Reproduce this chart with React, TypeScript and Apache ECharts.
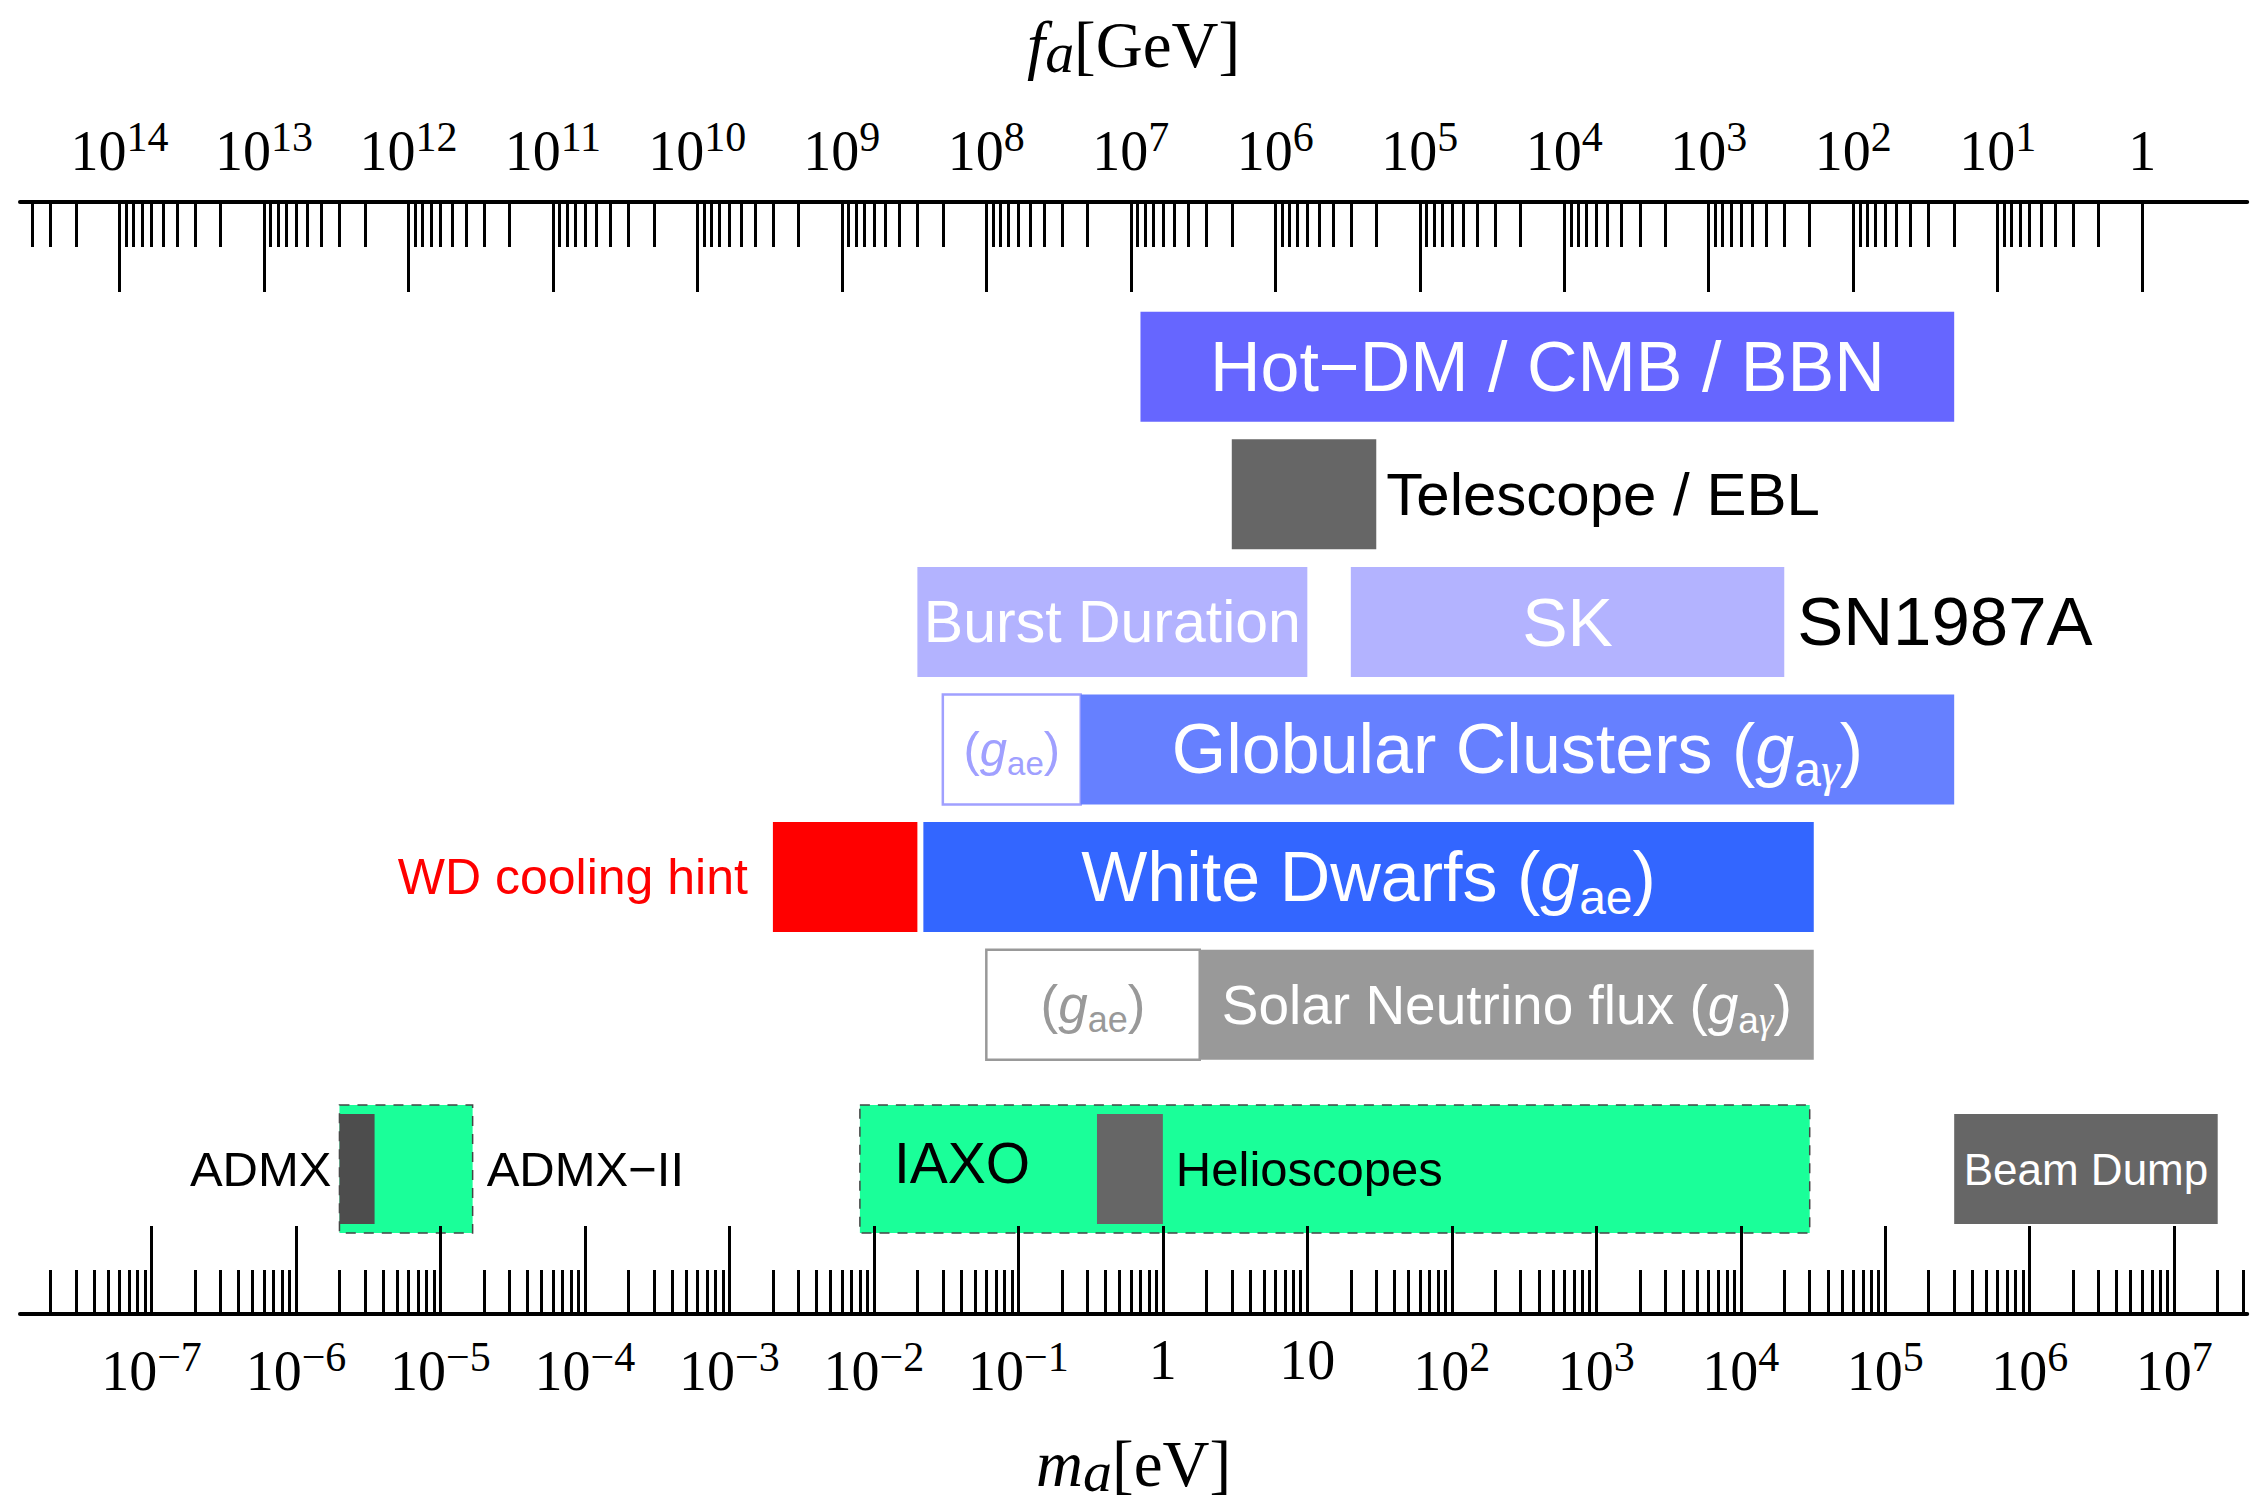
import React, { useEffect, useRef } from "react";
import * as echarts from "echarts";

// ---------------- data ----------------
// lower axis: axion mass m_a [eV]; upper axis: f_a [GeV] = faTimesMass / m_a
const massAxisRangeEv = [1.23e-8, 3.2e7];
const faTimesMass = 6.0e6;
const massTickExponents = [-7, -6, -5, -4, -3, -2, -1, 0, 1, 2, 3, 4, 5, 6, 7];
const faTickExponents = [14, 13, 12, 11, 10, 9, 8, 7, 6, 5, 4, 3, 2, 1, 0];
const minorTickMultipliers = [2, 3, 4, 5, 6, 7, 8, 9];

const rowNames = ["Cosmology", "Telescope", "SN1987A", "Globular Clusters", "White Dwarfs", "Sun", "Experiments"];

const boxNames = [
  "Hot-DM / CMB / BBN",
  "Telescope / EBL",
  "Burst Duration",
  "SK",
  "Globular Clusters (gae)",
  "Globular Clusters (gag)",
  "WD cooling hint",
  "White Dwarfs (gae)",
  "Solar Neutrino flux (gae)",
  "Solar Neutrino flux (gag)",
  "ADMX-II",
  "ADMX",
  "IAXO",
  "Helioscopes",
  "Beam Dump",
];
const boxRows = [
  "Cosmology",
  "Telescope",
  "SN1987A",
  "SN1987A",
  "Globular Clusters",
  "Globular Clusters",
  "White Dwarfs",
  "White Dwarfs",
  "Sun",
  "Sun",
  "Experiments",
  "Experiments",
  "Experiments",
  "Experiments",
  "Experiments",
];
const boxMinEv = [0.7, 3, 0.02, 20, 0.03, 0.27, 2.0e-3, 0.022, 0.06, 1.8, 2.0e-6, 2.0e-6, 8.0e-3, 0.35, 3.0e5];
const boxMaxEv = [3.0e5, 30, 10, 2.0e4, 0.27, 3.0e5, 0.02, 3.2e4, 1.8, 3.2e4, 1.67e-5, 3.5e-6, 3.0e4, 1.0, 2.0e7];

// ---------------- layout & style ----------------
const W = 2259;
const H = 1506;
const SANS = "'Liberation Sans', Arial, Helvetica, sans-serif";
const SERIF = "'Liberation Serif', 'Times New Roman', Times, serif";

const rowCenter: Record<string, number> = {
  Cosmology: 1,
  Telescope: 2,
  SN1987A: 3,
  "Globular Clusters": 4,
  "White Dwarfs": 5,
  Sun: 6,
  Experiments: 7.288,
};
const yMin = -0.2907;
const yMax = 8.424;

type Lbl = {
  text: string;
  pos: "inside" | "right" | "left" | "insideLeft";
  dx?: number;
  dy?: number;
  size: number;
  color: string;
  rich?: boolean;
};
type BoxStyle = { fill: string; stroke?: string; lineWidth?: number; dash?: number[]; h: number; labels: Lbl[] };

const BAR_H = 0.862;
const GREEN_H = 1.003;
const GREEN = "#1aff99";

const boxStyles: Record<string, BoxStyle> = {
  "Hot-DM / CMB / BBN": {
    fill: "#6666ff",
    h: BAR_H,
    labels: [{ text: "Hot−DM / CMB / BBN", pos: "inside", size: 70, color: "#fff" }],
  },
  "Telescope / EBL": {
    fill: "#666666",
    h: BAR_H,
    labels: [{ text: "Telescope / EBL", pos: "right", dx: 10, size: 60, color: "#000" }],
  },
  "Burst Duration": {
    fill: "#b3b3ff",
    h: BAR_H,
    labels: [{ text: "Burst Duration", pos: "inside", size: 59, color: "#fff" }],
  },
  SK: {
    fill: "#b3b3ff",
    h: BAR_H,
    labels: [
      { text: "SK", pos: "inside", size: 68, color: "#fff" },
      { text: "SN1987A", pos: "right", dx: 13, size: 69, color: "#000" },
    ],
  },
  "Globular Clusters (gae)": {
    fill: "#ffffff",
    stroke: "#a0a0ff",
    lineWidth: 2.5,
    h: BAR_H,
    labels: [{ text: "{p|(}{g|g}{s|ae}{p|)}", pos: "inside", size: 49, color: "#a0a0ff", rich: true }],
  },
  "Globular Clusters (gag)": {
    fill: "#6680ff",
    h: BAR_H,
    labels: [{ text: "{p|Globular Clusters (}{g|g}{s|a}{gm|γ}{p|)}", pos: "inside", size: 70, color: "#fff", rich: true }],
  },
  "WD cooling hint": {
    fill: "#ff0000",
    h: BAR_H,
    labels: [{ text: "WD cooling hint", pos: "left", dx: 25, size: 50, color: "#ff0000" }],
  },
  "White Dwarfs (gae)": {
    fill: "#3366ff",
    h: BAR_H,
    labels: [{ text: "{p|White Dwarfs (}{g|g}{s|ae}{p|)}", pos: "inside", size: 70, color: "#fff", rich: true }],
  },
  "Solar Neutrino flux (gae)": {
    fill: "#ffffff",
    stroke: "#999999",
    lineWidth: 2.5,
    h: BAR_H,
    labels: [{ text: "{p|(}{g|g}{s|ae}{p|)}", pos: "inside", size: 53, color: "#999999", rich: true }],
  },
  "Solar Neutrino flux (gag)": {
    fill: "#999999",
    h: BAR_H,
    labels: [{ text: "{p|Solar Neutrino flux (}{g|g}{s|a}{gm|γ}{p|)}", pos: "inside", size: 55, color: "#fff", rich: true }],
  },
  "ADMX-II": {
    fill: GREEN,
    stroke: "#444444",
    lineWidth: 1.5,
    dash: [10, 8],
    h: GREEN_H,
    labels: [{ text: "ADMX−II", pos: "right", dx: 14, size: 49, color: "#000" }],
  },
  ADMX: {
    fill: "#4d4d4d",
    h: BAR_H,
    labels: [{ text: "ADMX", pos: "left", dx: 8, size: 49, color: "#000" }],
  },
  IAXO: {
    fill: GREEN,
    stroke: "#444444",
    lineWidth: 1.5,
    dash: [10, 8],
    h: GREEN_H,
    labels: [{ text: "IAXO", pos: "insideLeft", dx: 34, dy: -6, size: 57, color: "#000" }],
  },
  Helioscopes: {
    fill: "#666666",
    h: BAR_H,
    labels: [{ text: "Helioscopes", pos: "right", dx: 13, size: 49, color: "#000" }],
  },
  "Beam Dump": {
    fill: "#666666",
    h: BAR_H,
    labels: [{ text: "Beam Dump", pos: "inside", size: 44, color: "#fff" }],
  },
};

function couplingRich(F: number) {
  const sub = Math.round(F * 0.68);
  return {
    p: { fontSize: F, lineHeight: Math.round(F * 1.25), fontFamily: SANS },
    g: { fontSize: F, lineHeight: Math.round(F * 1.25), fontFamily: SANS, fontStyle: "italic" },
    s: { fontSize: sub, lineHeight: sub, fontFamily: SANS, verticalAlign: "bottom" },
    gm: { fontSize: sub, lineHeight: sub, fontFamily: SERIF, fontStyle: "italic", verticalAlign: "bottom" },
  };
}

const lg = Math.log10;
const xMin = lg(massAxisRangeEv[0]);
const xMax = lg(massAxisRangeEv[1]);
const K = lg(faTimesMass);
const faMin = K - xMax;
const faMax = K - xMin;

const massMinorTicks: number[] = [];
for (let n = Math.floor(xMin); n <= Math.ceil(xMax); n++) {
  for (const k of minorTickMultipliers) {
    const v = n + lg(k);
    if (v >= xMin && v <= xMax) massMinorTicks.push(v);
  }
}
const faMinorTicks: number[] = [];
for (const n of faTickExponents) {
  for (const k of minorTickMultipliers) {
    const v = n + lg(k);
    if (v >= faMin && v <= faMax) faMinorTicks.push(v);
  }
}

const supNum = (n: number) => (n < 0 ? "−" + -n : String(n));

const tickRich = {
  b: { fontFamily: SERIF, fontSize: 56, lineHeight: 70, color: "#000" },
  s: { fontFamily: SERIF, fontSize: 42, lineHeight: 40, verticalAlign: "top", color: "#000" },
  p: { fontFamily: SERIF, fontSize: 56, lineHeight: 48, color: "#000" },
  q: { fontFamily: SERIF, fontSize: 56, lineHeight: 70, color: "#000" },
};

const titleRich = {
  i: { fontFamily: SERIF, fontStyle: "italic", fontSize: 65, lineHeight: 72, color: "#000" },
  sub: { fontFamily: SERIF, fontStyle: "italic", fontSize: 58, lineHeight: 58, verticalAlign: "bottom", color: "#000" },
  n: { fontFamily: SERIF, fontSize: 65, lineHeight: 72, color: "#000" },
};

const gridRect = {
  left: 20,
  right: W - 2247.2,
  top: 202,
  bottom: H - 1314,
  containLabel: false,
  outerBoundsMode: "none",
};

const tickLine = { color: "#000", width: 3 };

const option: any = {
  animation: false,
  backgroundColor: "#ffffff",
  grid: [{ ...gridRect }, { ...gridRect }],
  xAxis: [
    {
      gridIndex: 0,
      type: "value",
      position: "bottom",
      min: xMin,
      max: xMax,
      z: 10,
      axisLine: { show: true, onZero: false, lineStyle: { color: "#000", width: 4 } },
      axisTick: { show: true, inside: true, length: 88, customValues: massTickExponents, lineStyle: tickLine },
      axisLabel: {
        show: true,
        customValues: massTickExponents,
        margin: 22,
        color: "#000",
        fontFamily: SERIF,
        fontSize: 56,
        rich: tickRich,
        formatter: (v: number) => {
          const n = Math.round(v);
          if (n === 0) return "{p|1}";
          if (n === 1) return "{p|10}";
          return `{b|10}{s|${supNum(n)}}`;
        },
      },
      splitLine: { show: false },
      name: "{i|m}{sub|a}{n|[eV]}",
      nameLocation: "middle",
      nameGap: 114,
      nameTextStyle: { fontFamily: SERIF, fontSize: 65, color: "#000", rich: titleRich },
    },
    {
      gridIndex: 0,
      type: "value",
      position: "top",
      inverse: true,
      min: faMin,
      max: faMax,
      z: 10,
      axisLine: { show: true, onZero: false, lineStyle: { color: "#000", width: 4 } },
      axisTick: { show: true, inside: true, length: 90, customValues: faTickExponents, lineStyle: tickLine },
      axisLabel: {
        show: true,
        customValues: faTickExponents,
        margin: 16,
        color: "#000",
        fontFamily: SERIF,
        fontSize: 56,
        rich: tickRich,
        formatter: (v: number) => {
          const n = Math.round(v);
          if (n === 0) return "{q|1}";
          return `{b|10}{s|${supNum(n)}}`;
        },
      },
      splitLine: { show: false },
      name: "{i|f}{sub|a}{n|[GeV]}",
      nameLocation: "middle",
      nameGap: 121,
      nameTextStyle: { fontFamily: SERIF, fontSize: 65, color: "#000", rich: titleRich },
    },
    {
      gridIndex: 1,
      type: "value",
      position: "bottom",
      min: xMin,
      max: xMax,
      z: 10,
      axisLine: { show: false, onZero: false },
      axisTick: { show: true, inside: true, length: 44, customValues: massMinorTicks, lineStyle: tickLine },
      axisLabel: { show: false },
      splitLine: { show: false },
    },
    {
      gridIndex: 1,
      type: "value",
      position: "top",
      inverse: true,
      min: faMin,
      max: faMax,
      z: 10,
      axisLine: { show: false, onZero: false },
      axisTick: { show: true, inside: true, length: 45, customValues: faMinorTicks, lineStyle: tickLine },
      axisLabel: { show: false },
      splitLine: { show: false },
    },
  ],
  yAxis: [
    { gridIndex: 0, type: "value", inverse: true, min: yMin, max: yMax, show: false, axisLine: { onZero: false } },
    { gridIndex: 1, type: "value", inverse: true, min: yMin, max: yMax, show: false, axisLine: { onZero: false } },
  ],
  series: [
    {
      type: "custom",
      xAxisIndex: 0,
      yAxisIndex: 0,
      z: 2,
      silent: true,
      clip: false,
      encode: { x: [0, 1], y: 2 },
      data: boxNames.map((name, i) => [lg(boxMinEv[i]), lg(boxMaxEv[i]), rowCenter[boxRows[i]], i]),
      renderItem: (params: any, api: any) => {
        const idx = api.value(3) as number;
        const st = boxStyles[boxNames[idx]];
        const row = api.value(2) as number;
        const a = api.coord([api.value(0), row]);
        const b = api.coord([api.value(1), row]);
        const h = api.size([0, st.h])[1];
        const x = a[0];
        const w = b[0] - a[0];
        const cy = a[1];
        const children: any[] = [
          {
            type: "rect",
            shape: { x, y: cy - h / 2, width: w, height: h },
            style: {
              fill: st.fill,
              stroke: st.stroke || "none",
              lineWidth: st.lineWidth || 0,
              lineDash: st.dash || null,
            },
          },
        ];
        for (const lb of st.labels) {
          let tx = x + w / 2;
          let align = "center";
          if (lb.pos === "right") {
            tx = x + w + (lb.dx || 0);
            align = "left";
          } else if (lb.pos === "left") {
            tx = x - (lb.dx || 0);
            align = "right";
          } else if (lb.pos === "insideLeft") {
            tx = x + (lb.dx || 0);
            align = "left";
          }
          const style: any = {
            text: lb.text,
            fill: lb.color,
            fontSize: lb.size,
            fontFamily: SANS,
            align,
            verticalAlign: "middle",
          };
          if (lb.rich) style.rich = couplingRich(lb.size);
          children.push({ type: "text", x: tx, y: cy + (lb.dy || 0), style });
        }
        return { type: "group", children };
      },
    },
  ],
};

const App = () => {
  const ref = useRef<HTMLDivElement>(null);
  useEffect(() => {
    if (!ref.current) return;
    const chart = echarts.init(ref.current, null, { renderer: "svg" });
    chart.setOption(option);
    return () => chart.dispose();
  }, []);
  return (
    <div
      ref={ref}
      style={{ position: "fixed", left: 0, top: 0, width: W, height: H, background: "#fff" }}
    />
  );
};

export default App;
